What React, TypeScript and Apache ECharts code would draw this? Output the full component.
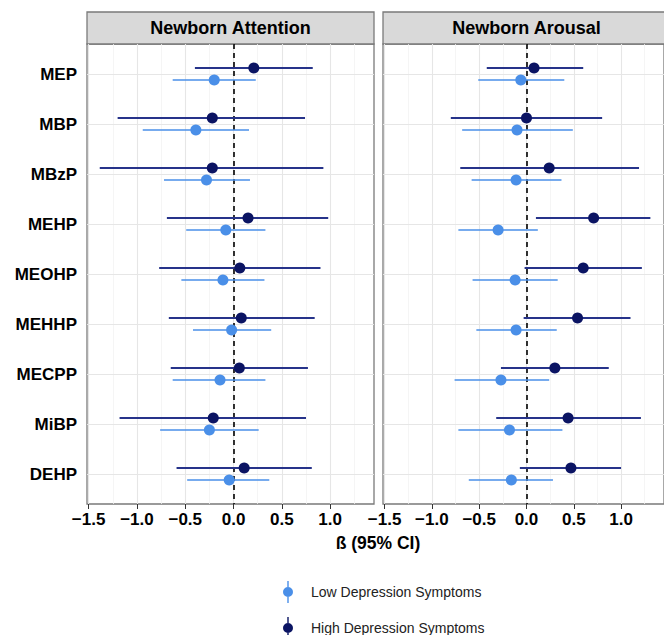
import React, { useEffect, useRef } from "react";
import * as echarts from "echarts";

const chemicals = ["MEP", "MBP", "MBzP", "MEHP", "MEOHP", "MEHHP", "MECPP", "MiBP", "DEHP"];
const panels = ["Newborn Attention", "Newborn Arousal"];
const groups = ["Low Depression Symptoms", "High Depression Symptoms"];

// Newborn Attention
const attLowEst = [-0.2, -0.39, -0.28, -0.08, -0.11, -0.02, -0.14, -0.25, -0.045];
const attLowLo = [-0.63, -0.94, -0.72, -0.49, -0.54, -0.42, -0.63, -0.76, -0.48];
const attLowHi = [0.23, 0.16, 0.17, 0.33, 0.32, 0.39, 0.33, 0.26, 0.37];
const attHighEst = [0.21, -0.22, -0.22, 0.15, 0.065, 0.08, 0.06, -0.21, 0.11];
const attHighLo = [-0.4, -1.2, -1.385, -0.69, -0.77, -0.67, -0.65, -1.18, -0.59];
const attHighHi = [0.82, 0.74, 0.93, 0.98, 0.9, 0.84, 0.77, 0.75, 0.81];

// Newborn Arousal
const aroLowEst = [-0.06, -0.1, -0.11, -0.3, -0.12, -0.11, -0.27, -0.18, -0.16];
const aroLowLo = [-0.51, -0.68, -0.58, -0.72, -0.57, -0.53, -0.76, -0.72, -0.61];
const aroLowHi = [0.4, 0.49, 0.37, 0.12, 0.33, 0.32, 0.24, 0.38, 0.28];
const aroHighEst = [0.08, 0.0, 0.24, 0.71, 0.6, 0.54, 0.3, 0.44, 0.47];
const aroHighLo = [-0.42, -0.8, -0.7, 0.1, -0.02, -0.03, -0.27, -0.32, -0.07];
const aroHighHi = [0.6, 0.8, 1.19, 1.31, 1.22, 1.1, 0.87, 1.21, 1.0];

const xTicks = [-1.5, -1.0, -0.5, 0.0, 0.5, 1.0];
const xMinor = [-1.25, -0.75, -0.25, 0.25, 0.75, 1.25];
const yTicks = [1, 2, 3, 4, 5, 6, 7, 8, 9];

const FONT = "'Liberation Sans', Arial, Helvetica, sans-serif";
const LOW_COLOR = "#4a8fe8";
const HIGH_POINT = "#0b1463";
const HIGH_LINE = "#26338a";
const DODGE = 0.12;

const ICON =
  "path://M4.3,0 L5.7,0 L5.7,22 L4.3,22 Z M0,11 A5,5 0 1,1 10,11 A5,5 0 1,1 0,11 Z";

function errorBarSeries(gi: number, name: string, lo: number[], hi: number[], off: number, color: string, width: number) {
  return {
    type: "custom",
    name,
    xAxisIndex: gi,
    yAxisIndex: gi,
    z: 3,
    silent: true,
    data: lo.map((l, i) => [l, hi[i], i + 1 + off]),
    encode: { x: [0, 1], y: 2 },
    renderItem: (params: any, api: any) => {
      const p1 = api.coord([api.value(0), api.value(2)]);
      const p2 = api.coord([api.value(1), api.value(2)]);
      return {
        type: "line",
        shape: { x1: p1[0], y1: p1[1], x2: p2[0], y2: p2[1] },
        style: { stroke: color, lineWidth: width },
      };
    },
  };
}

function pointSeries(gi: number, name: string, est: number[], off: number, color: string) {
  return {
    type: "scatter",
    name,
    xAxisIndex: gi,
    yAxisIndex: gi,
    z: 4,
    symbol: "circle",
    symbolSize: 11,
    itemStyle: { color, opacity: 1 },
    silent: true,
    data: est.map((v, i) => [v, i + 1 + off]),
  };
}

function gridSeries(gi: number) {
  return {
    type: "line",
    name: "grid" + gi,
    xAxisIndex: gi,
    yAxisIndex: gi,
    z: 1,
    data: [],
    markLine: {
      z: 1,
      silent: true,
      symbol: "none",
      label: { show: false },
      animation: false,
      data: [
        ...xMinor.map((v) => ({ xAxis: v, lineStyle: { color: "#f3f3f3", width: 0.8, type: "solid" } })),
        ...xTicks.map((v) => ({ xAxis: v, lineStyle: { color: "#e6e6e6", width: 1.1, type: "solid" } })),
        ...yTicks.map((v) => ({ yAxis: v, lineStyle: { color: "#e6e6e6", width: 1.1, type: "solid" } })),
        { xAxis: 0, lineStyle: { color: "#000", width: 1.6, type: [5, 4] } },
      ],
    },
  };
}

function fmtX(v: number) {
  return v.toFixed(1).replace("-", "\u2212");
}

export default function App() {
  const ref = useRef<HTMLDivElement>(null);
  useEffect(() => {
    if (!ref.current) return;
    const chart = echarts.init(ref.current, undefined, { renderer: "svg" });
    const gridLefts = [87, 383];
    const gridW = 287;
    const gridTop = 44;
    const gridH = 460;

    const xAxes = gridLefts.map((_, gi) => ({
      type: "value",
      gridIndex: gi,
      min: -1.517,
      max: 1.454,
      axisLine: { show: false },
      splitLine: { show: false },
      axisTick: { show: true, length: 5, customValues: xTicks, lineStyle: { color: "#333", width: 1 } },
      axisLabel: {
        show: true,
        customValues: xTicks,
        formatter: (v: number) => fmtX(v),
        fontFamily: FONT,
        fontWeight: "bold",
        fontSize: 17,
        color: "#000",
        margin: 7,
      },
    }));

    const yAxes = gridLefts.map((_, gi) => ({
      type: "value",
      gridIndex: gi,
      min: 0.4,
      max: 9.6,
      inverse: true,
      axisLine: { show: false },
      splitLine: { show: false },
      axisTick: { show: gi === 0, length: 5, customValues: yTicks, lineStyle: { color: "#333", width: 1 } },
      axisLabel: {
        show: gi === 0,
        customValues: yTicks,
        formatter: (v: number) => chemicals[Math.round(v) - 1] ?? "",
        fontFamily: FONT,
        fontWeight: "bold",
        fontSize: 17,
        color: "#000",
        margin: 10,
      },
    }));

    const sets = [
      { le: attLowEst, ll: attLowLo, lh: attLowHi, he: attHighEst, hl: attHighLo, hh: attHighHi },
      { le: aroLowEst, ll: aroLowLo, lh: aroLowHi, he: aroHighEst, hl: aroHighLo, hh: aroHighHi },
    ];

    const series: any[] = [];
    sets.forEach((s, gi) => {
      series.push(gridSeries(gi));
      series.push(errorBarSeries(gi, groups[0], s.ll, s.lh, DODGE, LOW_COLOR, 1.6));
      series.push(errorBarSeries(gi, groups[1], s.hl, s.hh, -DODGE, HIGH_LINE, 1.8));
      series.push(pointSeries(gi, groups[0], s.le, DODGE, LOW_COLOR));
      series.push(pointSeries(gi, groups[1], s.he, -DODGE, HIGH_POINT));
    });

    const graphics: any[] = [];
    gridLefts.forEach((left, gi) => {
      graphics.push({
        type: "rect",
        shape: { x: left, y: 12, width: gridW, height: 32 },
        style: { fill: "#d9d9d9", stroke: "#7a7a7a", lineWidth: 1.3 },
        silent: true,
      });
      graphics.push({
        type: "text",
        x: left + gridW / 2,
        y: 28,
        style: {
          text: panels[gi],
          fontFamily: FONT,
          fontWeight: "bold",
          fontSize: 18,
          fill: "#000",
          align: "center",
          verticalAlign: "middle",
        },
        silent: true,
      });
    });
    graphics.push({
      type: "text",
      x: 378,
      y: 543,
      style: {
        text: "\u00df (95% CI)",
        fontFamily: FONT,
        fontWeight: "bold",
        fontSize: 17.5,
        fill: "#000",
        align: "center",
        verticalAlign: "middle",
      },
      silent: true,
    });

    const legendBase = {
      orient: "vertical",
      left: 283,
      padding: 0,
      itemWidth: 10,
      itemHeight: 22,
      selectedMode: false,
      textStyle: { fontFamily: FONT, fontSize: 14, color: "#222", padding: [0, 0, 0, 13] },
    };

    chart.setOption({
      animation: false,
      backgroundColor: "#fff",
      grid: gridLefts.map((left) => ({
        left,
        top: gridTop,
        width: gridW,
        height: gridH,
        show: true,
        backgroundColor: "#fff",
        borderColor: "#7a7a7a",
        borderWidth: 1.3,
        containLabel: false,
      })),
      xAxis: xAxes,
      yAxis: yAxes,
      legend: [
        { ...legendBase, top: 581, data: [{ name: groups[0], icon: ICON, itemStyle: { color: LOW_COLOR } }] },
        { ...legendBase, top: 617, data: [{ name: groups[1], icon: ICON, itemStyle: { color: HIGH_POINT } }] },
      ],
      graphic: graphics,
      series,
    });
    return () => chart.dispose();
  }, []);
  return (
    <div
      ref={ref}
      style={{ position: "fixed", left: 0, top: 0, width: 664, height: 635, background: "#fff" }}
    />
  );
}
